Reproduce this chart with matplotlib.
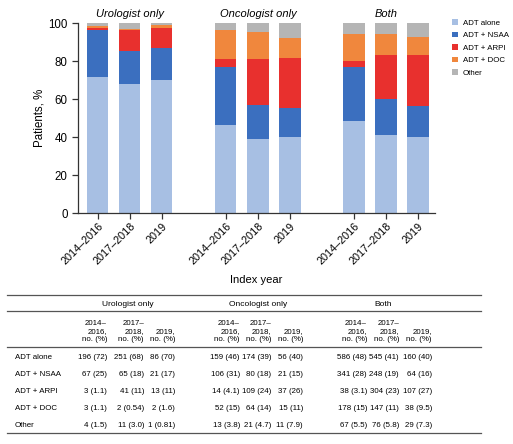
import numpy as np
import matplotlib.pyplot as plt
from matplotlib.lines import Line2D

plt.rcParams['font.family'] = ['Liberation Sans', 'DejaVu Sans']

groups = ["Urologist only", "Oncologist only", "Both"]
periods = ["2014\u20132016", "2017\u20132018", "2019"]
treatments = ["ADT alone", "ADT + NSAA", "ADT + ARPI", "ADT + DOC", "Other"]
colors = ["#a7bfe3", "#3b6fbf", "#e8302e", "#f0873d", "#b5b5b5"]

# patient counts, one row per treatment, columns = group x period
counts = np.array([
    [196, 251, 86, 159, 174, 56, 586, 545, 160],
    [67, 65, 21, 106, 80, 21, 341, 248, 64],
    [3, 41, 13, 14, 109, 37, 38, 304, 107],
    [3, 2, 2, 52, 64, 15, 178, 147, 38],
    [4, 11, 1, 13, 21, 11, 67, 76, 29],
])
# percentages as printed in the table
pct_labels = [
    ["72", "68", "70", "46", "39", "40", "48", "41", "40"],
    ["25", "18", "17", "31", "18", "15", "28", "19", "16"],
    ["1.1", "11", "11", "4.1", "24", "26", "3.1", "23", "27"],
    ["1.1", "0.54", "1.6", "15", "14", "11", "15", "11", "9.5"],
    ["1.5", "3.0", "0.81", "3.8", "4.7", "7.9", "5.5", "5.8", "7.3"],
]

W, H = 513, 444
fig = plt.figure(figsize=(W / 100, H / 100), dpi=100)


def fx(px):
    return px / W


def fy(py):
    return 1 - py / H


ax = fig.add_axes([fx(78), fy(213), fx(435) - fx(78), fy(23) - fy(213)])

pct = counts / counts.sum(axis=0) * 100
xpos = np.array([g * 4 + i for g in range(3) for i in range(3)])
bottom = np.zeros(9)
for k, name in enumerate(treatments):
    ax.bar(xpos, pct[k], bottom=bottom, width=0.66, color=colors[k], label=name)
    bottom += pct[k]

ax.set_xlim(-0.62, 10.53)
ax.set_ylim(0, 100)
ax.set_yticks(range(0, 101, 20))
ax.set_xticks(xpos)
ax.set_xticklabels(periods * 3, rotation=45, ha='right', rotation_mode='anchor',
                   fontsize=7.8)
ax.tick_params(axis='y', labelsize=8.3, length=4, width=0.9, color='#333333')
ax.tick_params(axis='x', length=4, width=0.9, color='#333333', pad=2)
for s in ['top', 'right']:
    ax.spines[s].set_visible(False)
for s in ['left', 'bottom']:
    ax.spines[s].set_color('#333333')
    ax.spines[s].set_linewidth(0.9)
ax.set_ylabel("Patients, %", fontsize=8.3, labelpad=2)
ax.set_xlabel("Index year", fontsize=8, labelpad=6)

for g, name in enumerate(groups):
    ax.text(g * 4 + 1, 102, name, ha='center', va='bottom', fontsize=8,
            style='italic')

handles, labels = ax.get_legend_handles_labels()
fig.legend(handles, labels, loc='upper left', bbox_to_anchor=(fx(448), fy(15)),
           frameon=False, fontsize=5.7, handlelength=0.75, handleheight=0.75,
           handletextpad=0.6, labelspacing=0.62, borderpad=0)

# table
line_kw = dict(color='#555555', lw=0.9)
for y in [295, 310.5, 347, 432.5]:
    fig.add_artist(Line2D([fx(7), fx(481)], [fy(y), fy(y)], **line_kw))

fs = 5.7
col_right = [107, 144, 175, 240, 271, 303, 367, 399, 432]
for g, name in enumerate(groups):
    fig.text(fx([128, 258, 383][g]), fy(304), name, ha='center', va='center',
             fontsize=6)
heads = ["2014\u2013\n2016,\nno. (%)", "2017\u2013\n2018,\nno. (%)", "\n2019,\nno. (%)"]
for j, xr in enumerate(col_right):
    fig.text(fx(xr), fy(343), heads[j % 3], ha='right', va='bottom',
             fontsize=fs, linespacing=1.25)

row_y = [357, 374, 391, 408, 425]
for k, name in enumerate(treatments):
    fig.text(fx(15), fy(row_y[k]), name, ha='left', va='center', fontsize=fs)
    for j, xr in enumerate(col_right):
        fig.text(fx(xr), fy(row_y[k]), f"{counts[k, j]} ({pct_labels[k][j]})",
                 ha='right', va='center', fontsize=fs)

fig.savefig("out.png", dpi=100)
